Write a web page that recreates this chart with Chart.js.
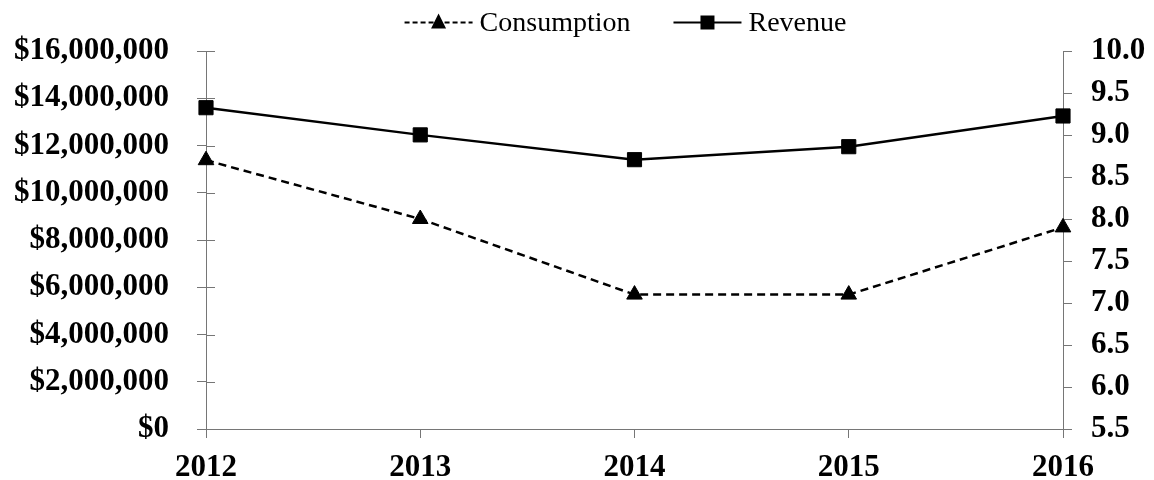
<!DOCTYPE html>
<html>
<head>
<meta charset="utf-8">
<script src="https://cdn.jsdelivr.net/npm/chart.js@4"></script>
<style>
  html, body { margin: 0; padding: 0; background: #fff; }
  #wrap { width: 1154px; height: 480px; }
</style>
</head>
<body>
<div id="wrap"><canvas id="chart"></canvas></div>
<script>
// years on the x axis
const years = ['2012', '2013', '2014', '2015', '2016'];
// revenue in dollars (left axis)
const revenue = [13600000, 12450000, 11400000, 11950000, 13250000];
// consumption (right axis)
const consumption = [8.7, 8.0, 7.1, 7.1, 7.9];
// axis tick ranges
const revenueTicks = { min: 0, max: 16000000, step: 2000000 };
const consumptionTicks = { min: 5.5, max: 10.0, step: 0.5 };

const AXIS = '#767676';
const SERIF = "'Liberation Serif', 'Times New Roman', serif";

// legend across the top: line sample with its marker, then the name
const topLegend = {
  id: 'topLegend',
  afterDraw(chart) {
    const ctx = chart.ctx;
    const items = chart.data.datasets.map(ds => ({
      text: ds.label,
      dash: ds.borderDash || [],
      marker: ds.pointStyle
    }));
    ctx.save();
    ctx.font = '28px ' + SERIF;
    const sampleW = 68, textGap = 7, itemGap = 43;
    const widths = items.map(it => ctx.measureText(it.text).width);
    const total = items.reduce((a, it, i) => a + sampleW + textGap + widths[i], 0) + itemGap * (items.length - 1);
    let x = (chart.chartArea.left + chart.chartArea.right) / 2 - total / 2 - 9;
    const y = 22.5;
    items.forEach((it, i) => {
      ctx.strokeStyle = '#000';
      ctx.fillStyle = '#000';
      ctx.lineWidth = 2;
      ctx.setLineDash(it.dash.length ? [5, 3] : []);
      ctx.beginPath();
      ctx.moveTo(x, y);
      ctx.lineTo(x + sampleW, y);
      ctx.stroke();
      ctx.setLineDash([]);
      const cx = x + sampleW / 2;
      ctx.beginPath();
      if (it.marker === 'triangle') {
        ctx.moveTo(cx, y - 9);
        ctx.lineTo(cx + 7.5, y + 6);
        ctx.lineTo(cx - 7.5, y + 6);
        ctx.closePath();
      } else {
        ctx.rect(cx - 7, y - 7, 14, 14);
      }
      ctx.fill();
      ctx.textBaseline = 'middle';
      ctx.textAlign = 'left';
      ctx.fillText(it.text, x + sampleW + textGap, y + 1);
      x += sampleW + textGap + widths[i] + itemGap;
    });
    ctx.restore();
  }
};

// ticks on the left axis cross into the plot area a bit
const innerTicks = {
  id: 'innerTicks',
  beforeDatasetsDraw(chart) {
    const s = chart.scales.y;
    const ctx = chart.ctx;
    ctx.save();
    ctx.strokeStyle = AXIS;
    ctx.lineWidth = 1;
    s.ticks.forEach((t, i) => {
      const y = Math.round(s.getPixelForTick(i)) + 0.5;
      ctx.beginPath();
      ctx.moveTo(s.right, y);
      ctx.lineTo(s.right + 9, y);
      ctx.stroke();
    });
    ctx.restore();
  }
};

const tickFont = { family: SERIF, size: 31, weight: 'bold' };

new Chart(document.getElementById('chart'), {
  type: 'line',
  data: {
    labels: years,
    datasets: [
      {
        label: 'Consumption',
        data: consumption,
        yAxisID: 'y1',
        borderColor: '#000',
        backgroundColor: '#000',
        borderWidth: 2.5,
        borderDash: [8, 5],
        pointStyle: 'triangle',
        pointRadius: 9,
        pointBorderWidth: 1,
        tension: 0
      },
      {
        label: 'Revenue',
        data: revenue,
        yAxisID: 'y',
        borderColor: '#000',
        backgroundColor: '#000',
        borderWidth: 2.5,
        pointStyle: 'rect',
        pointRadius: 10,
        pointBorderWidth: 1,
        tension: 0
      }
    ]
  },
  options: {
    responsive: true,
    maintainAspectRatio: false,
    animation: false,
    layout: { padding: { top: 51, left: 0, right: 0, bottom: 0 } },
    plugins: {
      tooltip: { enabled: false },
      legend: { display: false }
    },
    scales: {
      x: {
        offset: false,
        grid: { drawOnChartArea: false, tickLength: 9, tickColor: AXIS, color: AXIS },
        border: { color: AXIS, width: 1 },
        ticks: { color: '#000', font: tickFont, padding: 11, maxRotation: 0, autoSkip: false },
        afterFit(s) { s.height = 51; }
      },
      y: {
        position: 'left',
        min: revenueTicks.min,
        max: revenueTicks.max,
        grid: { drawOnChartArea: false, tickLength: 9, tickColor: AXIS, color: AXIS },
        border: { color: AXIS, width: 1 },
        ticks: {
          stepSize: revenueTicks.step,
          autoSkip: false,
          color: '#000',
          font: tickFont,
          padding: 28,
          callback: v => '$' + Number(v).toLocaleString('en-US')
        },
        afterFit(s) { s.width = 206; }
      },
      y1: {
        position: 'right',
        min: consumptionTicks.min,
        max: consumptionTicks.max,
        grid: { drawOnChartArea: false, tickLength: 9, tickColor: AXIS, color: AXIS },
        border: { color: AXIS, width: 1 },
        ticks: {
          stepSize: consumptionTicks.step,
          autoSkip: false,
          color: '#000',
          font: tickFont,
          padding: 19,
          callback: v => Number(v).toFixed(1)
        },
        afterFit(s) { s.width = 91; }
      }
    }
  },
  plugins: [innerTicks, topLegend]
});
</script>
</body>
</html>
